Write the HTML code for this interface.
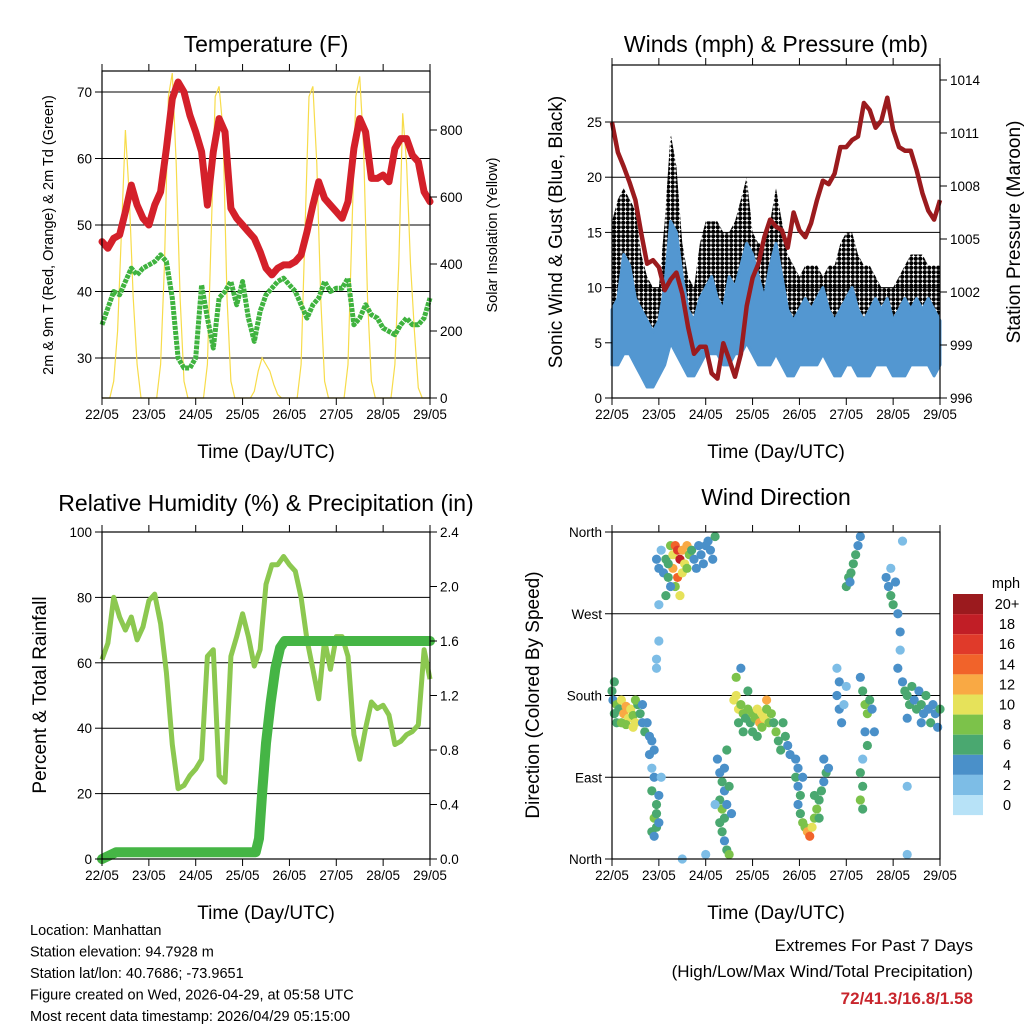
<!DOCTYPE html>
<html><head><meta charset="utf-8"><style>
body{margin:0;background:#fff;}
svg{display:block;font-family:"Liberation Sans",sans-serif;}
</style></head><body>
<svg id="c" width="1024" height="1024" viewBox="0 0 1024 1024" xmlns="http://www.w3.org/2000/svg">
<defs>
<pattern id="dots" width="4.5" height="4.5" patternUnits="userSpaceOnUse">
<circle cx="2.25" cy="2.25" r="2.1" fill="#000"/>
</pattern>
</defs>
</svg>
<script>
// ---- data (days since 22/05 00 UTC, 3-hour steps) ----
const tempTimes = [0,0.125,0.25,0.375,0.5,0.625,0.75,0.875,1,1.125,1.25,1.375,1.5,1.625,1.75,1.875,2,2.125,2.25,2.375,2.5,2.625,2.75,2.875,3,3.125,3.25,3.375,3.5,3.625,3.75,3.875,4,4.125,4.25,4.375,4.5,4.625,4.75,4.875,5,5.125,5.25,5.375,5.5,5.625,5.75,5.875,6,6.125,6.25,6.375,6.5,6.625,6.75,6.875,7];
const tempF = [47.5,46.5,48,48.5,52,56,53,51,50,53,55,61.5,69,71.5,70,66.5,64,61,53,61,66,64,52.5,51,50,49,48,46,43.5,42.5,43.5,44,44,44.5,45.5,49,53,56.5,54,53,52,51,53.5,61.5,66,64,57,57,57.5,56.5,61.5,63,63,60.5,59.5,55,53.5];
const dewF = [35,37.5,40,39.5,41.5,43.5,42.5,43.5,44,44.5,45.5,44.5,39,30,28.5,28.5,30,41,36,31.5,39,40,41.5,38,41.5,36,32.5,37,39.5,40.5,41.5,42,41,40,38,36,38,39,41.5,40,40.5,40.5,42,35,36,38,36.5,36,34.5,34,33.5,35,36,35,35,36,39];
const solarTimes = [];
for (let i=0;i<=84;i++) solarTimes.push(i/12);
const solarW = [0,0,0,50,200,500,800,600,300,100,0,0,
 0,0,0,100,400,900,970,700,300,50,0,0,
 0,0,0,100,500,900,930,800,300,50,0,0,
 0,0,0,20,80,120,100,80,40,10,0,0,
 0,0,0,100,500,900,930,700,300,50,0,0,
 0,0,0,100,500,900,960,750,300,50,0,0,
 0,0,0,100,400,850,700,400,200,30,0,0,0];
const windLo = [3,3,4,4,3,2,1,1,2,3,5,4,3,2,2,3,4,4,4,3,3,4,4,5,4,3,3,3,4,3,2,2,3,3,3,3,4,3,2,2,3,3,2,2,2,3,3,3,2,2,2,3,3,3,3,2,3];
const windHi = [8,9,13,12,9,8,7,6,7,10,16,15,11,8,7,9,10,11,9,8,11,10,12,14,13,11,9,12,14,11,8,7,8,9,8,9,10,8,7,8,9,10,8,7,8,9,8,9,7,8,9,8,9,8,9,8,7];
const gustHi = [16,18,19,18,17,13,11,10,10,16,24,21,14,11,10,14,16,16,16,15,15,16,18,20,15,14,14,16,19,16,13,12,11,12,12,12,11,12,12,14,15,15,13,12,12,11,10,10,10,11,12,13,13,13,12,12,12];
const pressMb = [1011.6,1009.9,1009.1,1008.2,1007.2,1005.3,1003.6,1003.8,1003.4,1002.1,1002.7,1003.1,1001.9,1000,998.5,998.9,998.9,997.4,997.1,999.1,998.2,997.2,998.5,1001.2,1002.8,1003.6,1005.1,1006.1,1005.7,1005.5,1004.5,1006.5,1005.5,1005.1,1005.9,1007.2,1008.3,1008.1,1008.7,1010.2,1010.2,1010.6,1010.8,1012.7,1012.3,1011.3,1011.7,1013,1011.2,1010.2,1010,1010,1008.9,1007.6,1006.6,1006.1,1007.2];
const rhPct = [61,66,80,74,70,74,67,71,79,81,72,57,35,21.5,22.5,25.5,27.5,30.5,62,64,25.5,23.5,62,68,75,68,59,64,84,90,90,92.5,90,88,80,67,58,49,67,58,68,68,62,38,30.5,40,48,46,47,44,35,36,38,39,41,64,55];
const precipTimes = [0,0.3,3.28,3.35,3.42,3.5,3.6,3.7,3.8,3.9,7];
const precipIn = [0,0.05,0.05,0.15,0.5,0.85,1.15,1.4,1.55,1.6,1.6];
// wind direction observations: [day, degrees, mph]
const dirObs = [
 [0.0,185,6],[0.02,175,4],[0.05,160,5],[0.1,170,8],[0.15,165,6],[0.2,175,10],[0.25,160,11],[0.3,168,12],[0.35,155,10],[0.4,165,9],[0.45,158,8],[0.5,150,10],[0.55,170,6],[0.6,160,5],[0.65,150,4],[0.7,140,6],[0.75,150,3],[0.8,135,4],[0.85,130,4],[0.1,150,6],[0.3,148,8],[0.5,175,7],[0.05,195,5],[0.2,150,7],[0.45,145,10],[0.65,170,4],[0.9,120,4],
 [0.8,115,3],[0.85,100,2],[0.9,90,4],[0.85,75,5],[0.95,60,6],[0.9,45,7],[0.95,35,5],[0.85,30,6],[1.0,40,4],[1.0,70,3],[0.9,25,4],[0.95,50,6],[1.05,90,2],
 [0.95,330,3],[1.0,320,4],[1.05,340,2],[1.1,315,4],[1.15,330,6],[1.2,310,5],[1.25,345,8],[1.3,335,10],[1.35,345,14],[1.4,340,16],[1.45,330,18],[1.5,340,12],[1.55,325,10],[1.6,345,12],[1.65,335,8],[1.7,340,6],[1.75,330,4],[1.8,320,4],[1.85,345,4],[1.3,320,12],[1.4,310,14],[1.35,300,8],[1.45,290,10],[1.5,315,9],[1.2,325,6],[1.25,300,4],[1.15,290,6],[1.9,335,4],[1.95,325,3],[2.0,345,4],[2.05,350,4],[2.1,340,4],[2.15,330,3],[2.2,355,6],[1.6,320,7],[1.0,280,1],
 [2.25,110,4],[2.3,95,3],[2.35,85,5],[2.4,75,4],[2.3,65,6],[2.35,55,7],[2.4,45,5],[2.45,60,4],[2.3,40,5],[2.35,30,6],[2.4,20,4],[2.45,10,6],[2.5,5,8],[2.4,100,3],[2.5,80,5],[2.55,50,4],[2.2,60,2],[2.45,120,6],
 [2.6,175,10],[2.65,180,10],[2.7,165,9],[2.75,170,8],[2.8,160,7],[2.85,155,6],[2.9,165,8],[2.95,150,6],[3.0,160,7],[3.05,155,8],[3.1,165,10],[3.15,150,12],[3.2,160,10],[3.25,155,9],[3.3,165,8],[3.35,150,7],[3.4,160,8],[3.45,150,6],[3.5,140,7],[3.55,130,6],[3.6,120,5],[2.7,150,6],[2.8,140,5],[2.9,185,6],[3.0,140,6],[3.2,145,8],[3.3,175,11],[3.1,135,5],[2.65,200,8],[2.75,210,4],
 [3.65,150,6],[3.7,135,5],[3.75,125,4],[3.8,115,4],
 [3.92,110,4],[3.97,100,4],[3.92,90,5],[3.97,80,4],[4.02,70,6],[3.97,60,4],[4.02,50,5],[4.07,40,7],[4.12,35,8],[4.17,30,12],[4.22,25,14],[4.27,35,10],[4.32,45,8],[4.37,55,7],[4.42,65,6],[4.47,75,5],[4.52,85,4],[4.57,95,5],[4.62,100,4],[4.42,45,6],[4.32,70,5],[4.07,90,4],[4.52,110,4],
 [4.8,210,2],[4.85,195,3],[4.8,180,4],[4.85,165,4],[4.9,150,3],[4.95,170,2],[5.0,190,2],
 [5.0,300,5],[5.05,310,6],[5.1,315,5],[5.15,325,6],[5.2,335,5],[5.25,345,4],[5.3,355,4],[5.08,305,4],
 [5.3,200,4],[5.35,185,5],[5.4,170,7],[5.45,160,8],[5.5,175,6],[5.4,140,4],[5.45,125,5],[5.35,110,2],[5.3,95,5],[5.35,80,6],[5.3,65,7],[5.35,55,5],[5.55,165,4],[5.6,140,4],
 [5.85,310,3],[5.9,300,4],[5.95,290,6],[6.0,280,5],[6.05,305,3],[5.95,320,2],[6.1,270,4],[6.15,250,4],[6.15,230,2],[6.1,210,3],[6.2,195,4],
 [6.25,185,6],[6.3,180,5],[6.35,170,6],[6.4,190,5],[6.45,175,4],[6.5,165,6],[6.55,185,4],[6.6,170,5],[6.65,160,4],[6.7,180,6],[6.75,165,4],[6.8,150,5],[6.85,170,4],[6.9,160,3],[6.95,145,4],[7.0,165,5],[6.3,155,4],[6.6,150,3],
 [0.95,220,1],[0.95,210,1],[1.0,240,1],[2.0,5,2],[6.2,350,1],[6.3,80,1],[6.3,5,1],[1.5,0,2]
];
const cbLabels = ["20+","18","16","14","12","10","8","6","4","2","0"];
const cbColors = ["#9b1a1e","#c11e26","#e03a2a","#f1632a","#f9a944","#e6e25a","#7cc24a","#4aa870","#4a90c9","#7dbde6","#b7e2f7"];
const dayLabels = ["22/05","23/05","24/05","25/05","26/05","27/05","28/05","29/05"];

// ---- helpers ----
const svg = document.getElementById('c');
const NS = 'http://www.w3.org/2000/svg';
function mk(tag, attrs, parent, txt){
  const e = document.createElementNS(NS, tag);
  for (const k in attrs) e.setAttribute(k, attrs[k]);
  if (txt !== undefined) e.textContent = txt;
  (parent||svg).appendChild(e);
  return e;
}
function lin(d0,d1,r0,r1){return v=>r0+(v-d0)/(d1-d0)*(r1-r0);}
function poly(xs, ys, fx, fy){return xs.map((t,i)=>fx(t).toFixed(1)+','+fy(ys[i]).toFixed(1)).join(' ');}

function panel(p){
  const g = mk('g',{});
  
  
  p.grid.forEach(v=>{
    const l = mk('line',{x1:p.x0,x2:p.x1,y1:p.fy(v),y2:p.fy(v),stroke:'#000','stroke-width':1},g);
    
    
  });
  return g;
}
function frame(p, g){
  const r = mk('rect',{x:p.x0,y:p.y0,width:p.x1-p.x0,height:p.y1-p.y0,fill:'none',stroke:'#000','stroke-width':1.2},g);
  
  
  const fx = lin(0,7,p.x0,p.x1);
  dayLabels.forEach((lab,i)=>{
    const x = fx(i);
    mk('line',{x1:x,x2:x,y1:p.y1,y2:p.y1+7,stroke:'#000'},g);
    mk('line',{x1:x,x2:x,y1:p.y0,y2:p.y0-7,stroke:'#000'},g);
    const t = mk('text',{x:x,y:p.y1+21,'font-size':13.5,'text-anchor':'middle'},g,lab);
    
    
  });
  const xt = mk('text',{x:(p.x0+p.x1)/2,y:p.y1+60,'font-size':19,'text-anchor':'middle'},g,'Time (Day/UTC)');
  
  
  const tt = mk('text',{x:(p.x0+p.x1)/2,y:p.titleY,'font-size':23,'text-anchor':'middle'},g,p.title);
  
  
}
function yaxis(g, side, x, ticks, labels, f){
  ticks.forEach((v,i)=>{
    const y = f(v);
    mk('line',{x1:x,x2:side==='l'?x-7:x+7,y1:y,y2:y,stroke:'#000'},g);
    const t = mk('text',{x:side==='l'?x-10:x+10,y:y+5,'font-size':13.5,'text-anchor':side==='l'?'end':'start'},g,labels[i]);
    
    
  });
}
function ytitle(g, x, y, size, txt, name){
  const t = mk('text',{x:x,y:y,'font-size':size,'text-anchor':'middle',transform:`rotate(-90 ${x} ${y})`},g,txt);
  
  
}

// ===== Panel 1: Temperature =====
{
  const p = {x0:102,x1:430,y0:71,y1:398,name:'temperature-panel',title:'Temperature (F)',titleY:52};
  p.fy = lin(30,70,358,92); p.grid=[30,40,50,60,70];
  const fx = lin(0,7,p.x0,p.x1), fs = lin(0,800,398,130);
  const g = panel(p);
  const s = mk('polyline',{points:poly(solarTimes,solarW,fx,fs),fill:'none',stroke:'#f7dc4a','stroke-width':1.2},g);
  
  
  const r = mk('polyline',{points:poly(tempTimes,tempF,fx,p.fy),fill:'none',stroke:'#d4202a','stroke-width':7,'stroke-linejoin':'round','stroke-linecap':'round'},g);
  
  
  const d = mk('polyline',{points:poly(tempTimes,dewF,fx,p.fy),fill:'none',stroke:'#3fb33f','stroke-width':5,'stroke-dasharray':'4 1','stroke-linejoin':'round'},g);
  
  
  frame(p,g);
  yaxis(g,'l',p.x0,[30,40,50,60,70],['30','40','50','60','70'],p.fy);
  yaxis(g,'r',p.x1,[0,200,400,600,800],['0','200','400','600','800'],fs);
  ytitle(g,53,235,14.5,'2m & 9m T (Red, Orange) & 2m Td (Green)','y-axis-title');
  ytitle(g,497,235,14.5,'Solar Insolation (Yellow)','y2-axis-title');
}
// ===== Panel 2: Winds =====
{
  const p = {x0:612,x1:940,y0:65,y1:398,name:'winds-panel',title:'Winds (mph) & Pressure (mb)',titleY:52};
  p.fy = lin(0,25,398,122); p.grid=[5,10,15,20,25];
  const fx = lin(0,7,p.x0,p.x1), fp = lin(996,1014,398,80);
  const g = panel(p);
  const gustPts = poly(tempTimes,gustHi,fx,p.fy)+' '+poly(tempTimes.slice().reverse(),windHi.slice().reverse(),fx,p.fy);
  const gb = mk('polygon',{points:gustPts,fill:'url(#dots)',stroke:'none'},g);
  
  
  const wPts = poly(tempTimes,windHi,fx,p.fy)+' '+poly(tempTimes.slice().reverse(),windLo.slice().reverse(),fx,p.fy);
  const wb = mk('polygon',{points:wPts,fill:'#5397d1',stroke:'#5397d1','stroke-width':3,'stroke-linejoin':'round'},g);
  
  
  const pl = mk('polyline',{points:poly(tempTimes,pressMb,fx,fp),fill:'none',stroke:'#9b1b1e','stroke-width':4.5,'stroke-linejoin':'round'},g);
  
  
  frame(p,g);
  yaxis(g,'l',p.x0,[0,5,10,15,20,25],['0','5','10','15','20','25'],p.fy);
  yaxis(g,'r',p.x1,[996,999,1002,1005,1008,1011,1014],['996','999','1002','1005','1008','1011','1014'],fp);
  ytitle(g,562,232,19,'Sonic Wind & Gust (Blue, Black)','y-axis-title');
  ytitle(g,1020,232,19,'Station Pressure (Maroon)','y2-axis-title');
}
// ===== Panel 3: RH =====
{
  const p = {x0:102,x1:430,y0:532,y1:859,name:'humidity-panel',title:'Relative Humidity (%) & Precipitation (in)',titleY:511};
  p.fy = lin(0,100,859,532); p.grid=[20,40,60,80];
  const fx = lin(0,7,p.x0,p.x1), fr = lin(0,2.4,859,532);
  const g = panel(p);
  const rh = mk('polyline',{points:poly(tempTimes,rhPct,fx,p.fy),fill:'none',stroke:'#8cc850','stroke-width':5,'stroke-linejoin':'round'},g);
  
  
  const pr = mk('polyline',{points:poly(precipTimes,precipIn,fx,fr),fill:'none',stroke:'#45b545','stroke-width':10,'stroke-linejoin':'round','stroke-linecap':'round'},g);
  
  
  frame(p,g);
  yaxis(g,'l',p.x0,[0,20,40,60,80,100],['0','20','40','60','80','100'],p.fy);
  yaxis(g,'r',p.x1,[0,0.4,0.8,1.2,1.6,2.0,2.4],['0.0','0.4','0.8','1.2','1.6','2.0','2.4'],fr);
  ytitle(g,46,695,19,'Percent & Total Rainfall','y-axis-title');
}
// ===== Panel 4: Wind direction =====
{
  const p = {x0:612,x1:940,y0:532,y1:859,name:'wind-direction-panel',title:'Wind Direction',titleY:505};
  p.fy = lin(0,360,859,532); p.grid=[90,180,270];
  const fx = lin(0,7,p.x0,p.x1);
  const g = panel(p);
  dirObs.forEach(o=>{
    const idx = Math.min(10, Math.round(o[2]/2));
    const c = mk('circle',{cx:fx(o[0]),cy:p.fy(o[1]),r:4.6,fill:cbColors[10-idx]},g);
    
    
  });
  frame(p,g);
  yaxis(g,'l',p.x0,[0,90,180,270,360],['North','East','South','West','North'],p.fy);
  ytitle(g,539,695,19,'Direction (Colored By Speed)','y-axis-title');
  const cb = mk('g',{},g);
  
  
  const mt = mk('text',{x:1006,y:588,'font-size':14.5,'text-anchor':'middle'},cb,'mph');
  
  
  cbLabels.forEach((lab,i)=>{
    const y = 594 + i*20.1;
    const b = mk('rect',{x:953,y:y,width:30,height:20.1,fill:cbColors[i]},cb);
    
    
    const t = mk('text',{x:1007,y:y+15,'font-size':14.5,'text-anchor':'middle'},cb,lab);
    
    
  });
}
// ===== Footer =====
{
  const lines = ['Location: Manhattan','Station elevation: 94.7928 m','Station lat/lon: 40.7686; -73.9651','Figure created on Wed, 2026-04-29, at 05:58 UTC','Most recent data timestamp: 2026/04/29 05:15:00'];
  lines.forEach((s,i)=>{
    const t = mk('text',{x:30,y:935+i*21.5,'font-size':14.5},svg,s);
    
    
  });
  const a = mk('text',{x:973,y:951,'font-size':17,'text-anchor':'end'},svg,'Extremes For Past 7 Days');
  
  
  const b = mk('text',{x:973,y:977,'font-size':17,'text-anchor':'end'},svg,'(High/Low/Max Wind/Total Precipitation)');
  
  
  const c = mk('text',{x:973,y:1004,'font-size':17,'text-anchor':'end','font-weight':'bold',fill:'#c8252c'},svg,'72/41.3/16.8/1.58');
  
  
}
</script>
</body></html>
